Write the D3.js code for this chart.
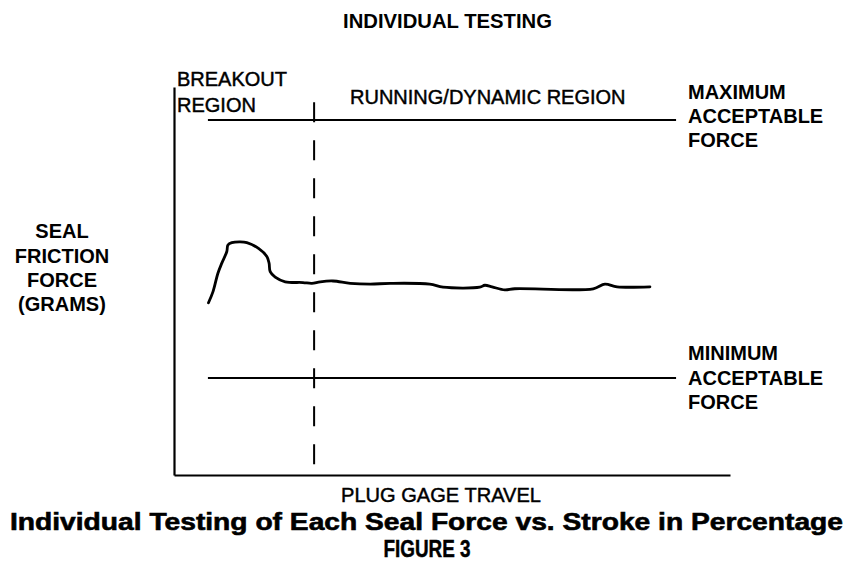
<!DOCTYPE html>
<html><head><meta charset="utf-8">
<script src="https://cdn.jsdelivr.net/npm/d3@7"></script>
<style>
body{margin:0;background:#fff;}
svg{display:block;}
text{font-family:"Liberation Sans",Arial,Helvetica,sans-serif;fill:#000;}
.med{stroke:#000;stroke-width:0.45;}
</style></head>
<body><svg id="c" width="854" height="569"></svg>
<script>
// Data (travel in % of stroke, force in arbitrary gram units 0-100)
const travel = [6.2,7.0,7.9,8.6,9.5,9.7,10.4,11.9,13.1,15.2,16.7,17.1,17.3,18.2,20.0,23.2,24.8,26.3,28.6,31.7,35.3,38.9,46.0,48.4,55.0,55.9,57.2,59.5,61.3,75.4,77.5,79.7,85.6];
const force  = [44.4,47.2,52.0,54.6,57.6,59.3,59.9,60.1,59.9,58.4,56.3,54.6,52.4,51.0,49.8,49.6,49.4,49.8,50.0,49.4,49.2,49.4,49.2,48.4,48.4,48.9,48.5,47.7,48.0,48.0,49.2,48.5,48.5];
const maxForce = 91.5;
const minForce = 25.0;
const limitStart = 6.1, limitEnd = 90.3;
const breakoutEnd = 25.2;
const limitLabels = [["MAXIMUM","ACCEPTABLE","FORCE"],["MINIMUM","ACCEPTABLE","FORCE"]];
const yLabel = ["SEAL","FRICTION","FORCE","(GRAMS)"];
const regionLabels = [["BREAKOUT","REGION"],["RUNNING/DYNAMIC REGION"]];

const svg = d3.select("#c");
const x = d3.scaleLinear().domain([0,100]).range([174,730]);
const y = d3.scaleLinear().domain([0,100]).range([475,87]);

// axes (no ticks)
svg.append("g").attr("transform",`translate(0,${y(0)})`)
  .call(d3.axisBottom(x).ticks(0).tickSizeOuter(0))
  .call(g=>g.select(".domain").attr("stroke","#000").attr("stroke-width",2.2));
svg.append("g").attr("transform",`translate(${x(0)},0)`)
  .call(d3.axisLeft(y).ticks(0).tickSizeOuter(0))
  .call(g=>g.select(".domain").attr("stroke","#000").attr("stroke-width",2.2));

// limit lines
[maxForce,minForce].forEach(v=>{
  svg.append("line").attr("x1",x(limitStart)).attr("x2",x(limitEnd))
    .attr("y1",y(v)).attr("y2",y(v)).attr("stroke","#000").attr("stroke-width",2);
});

// dashed breakout boundary
svg.append("line").attr("x1",x(breakoutEnd)).attr("x2",x(breakoutEnd))
  .attr("y1",y(96.1)).attr("y2",y(0)).attr("stroke","#000").attr("stroke-width",2)
  .attr("stroke-dasharray","20,18");

// curve
const line = d3.line().x((d,i)=>x(travel[i])).y(d=>y(d)).curve(d3.curveCatmullRom.alpha(0.5));
svg.append("path").attr("d",line(force)).attr("fill","none")
  .attr("stroke","#000").attr("stroke-width",2.8).attr("stroke-linejoin","round").attr("stroke-linecap","round");

// texts
svg.append("text").attr("x",447.5).attr("y",28).attr("text-anchor","middle")
  .attr("font-size",20).attr("font-weight","bold").attr("textLength",209).attr("lengthAdjust","spacingAndGlyphs").text("INDIVIDUAL TESTING");

svg.append("text").attr("class","med").attr("x",177).attr("y",86).attr("font-size",20).text(regionLabels[0][0]);
svg.append("text").attr("class","med").attr("x",177).attr("y",111.5).attr("font-size",20).text(regionLabels[0][1]);
svg.append("text").attr("class","med").attr("x",350).attr("y",103.5).attr("font-size",20).text(regionLabels[1][0]);

const maxB=[99,123,147], minB=[360,385,409];
limitLabels[0].forEach((t,i)=>svg.append("text").attr("x",688).attr("y",maxB[i]).attr("font-size",20).attr("font-weight","bold").text(t));
limitLabels[1].forEach((t,i)=>svg.append("text").attr("x",688).attr("y",minB[i]).attr("font-size",20).attr("font-weight","bold").text(t));

const yB=[238,263,287,311];
yLabel.forEach((t,i)=>svg.append("text").attr("x",62).attr("y",yB[i]).attr("text-anchor","middle")
  .attr("font-size",20).attr("font-weight","bold").text(t));

svg.append("text").attr("class","med").attr("x",441).attr("y",502).attr("text-anchor","middle")
  .attr("font-size",20).attr("textLength",200).attr("lengthAdjust","spacingAndGlyphs").text("PLUG GAGE TRAVEL");
svg.append("text").attr("x",10).attr("y",529.5)
  .attr("font-size",24).attr("font-weight","bold").attr("textLength",833).attr("lengthAdjust","spacingAndGlyphs")
  .style("stroke","#000").style("stroke-width",0.6)
  .text("Individual Testing of Each Seal Force vs. Stroke in Percentage");
svg.append("text").attr("x",427).attr("y",556.5).attr("text-anchor","middle")
  .attr("font-size",24).attr("font-weight","bold").attr("textLength",87).attr("lengthAdjust","spacingAndGlyphs")
  .style("stroke","#000").style("stroke-width",0.5).text("FIGURE 3");
</script></body></html>
